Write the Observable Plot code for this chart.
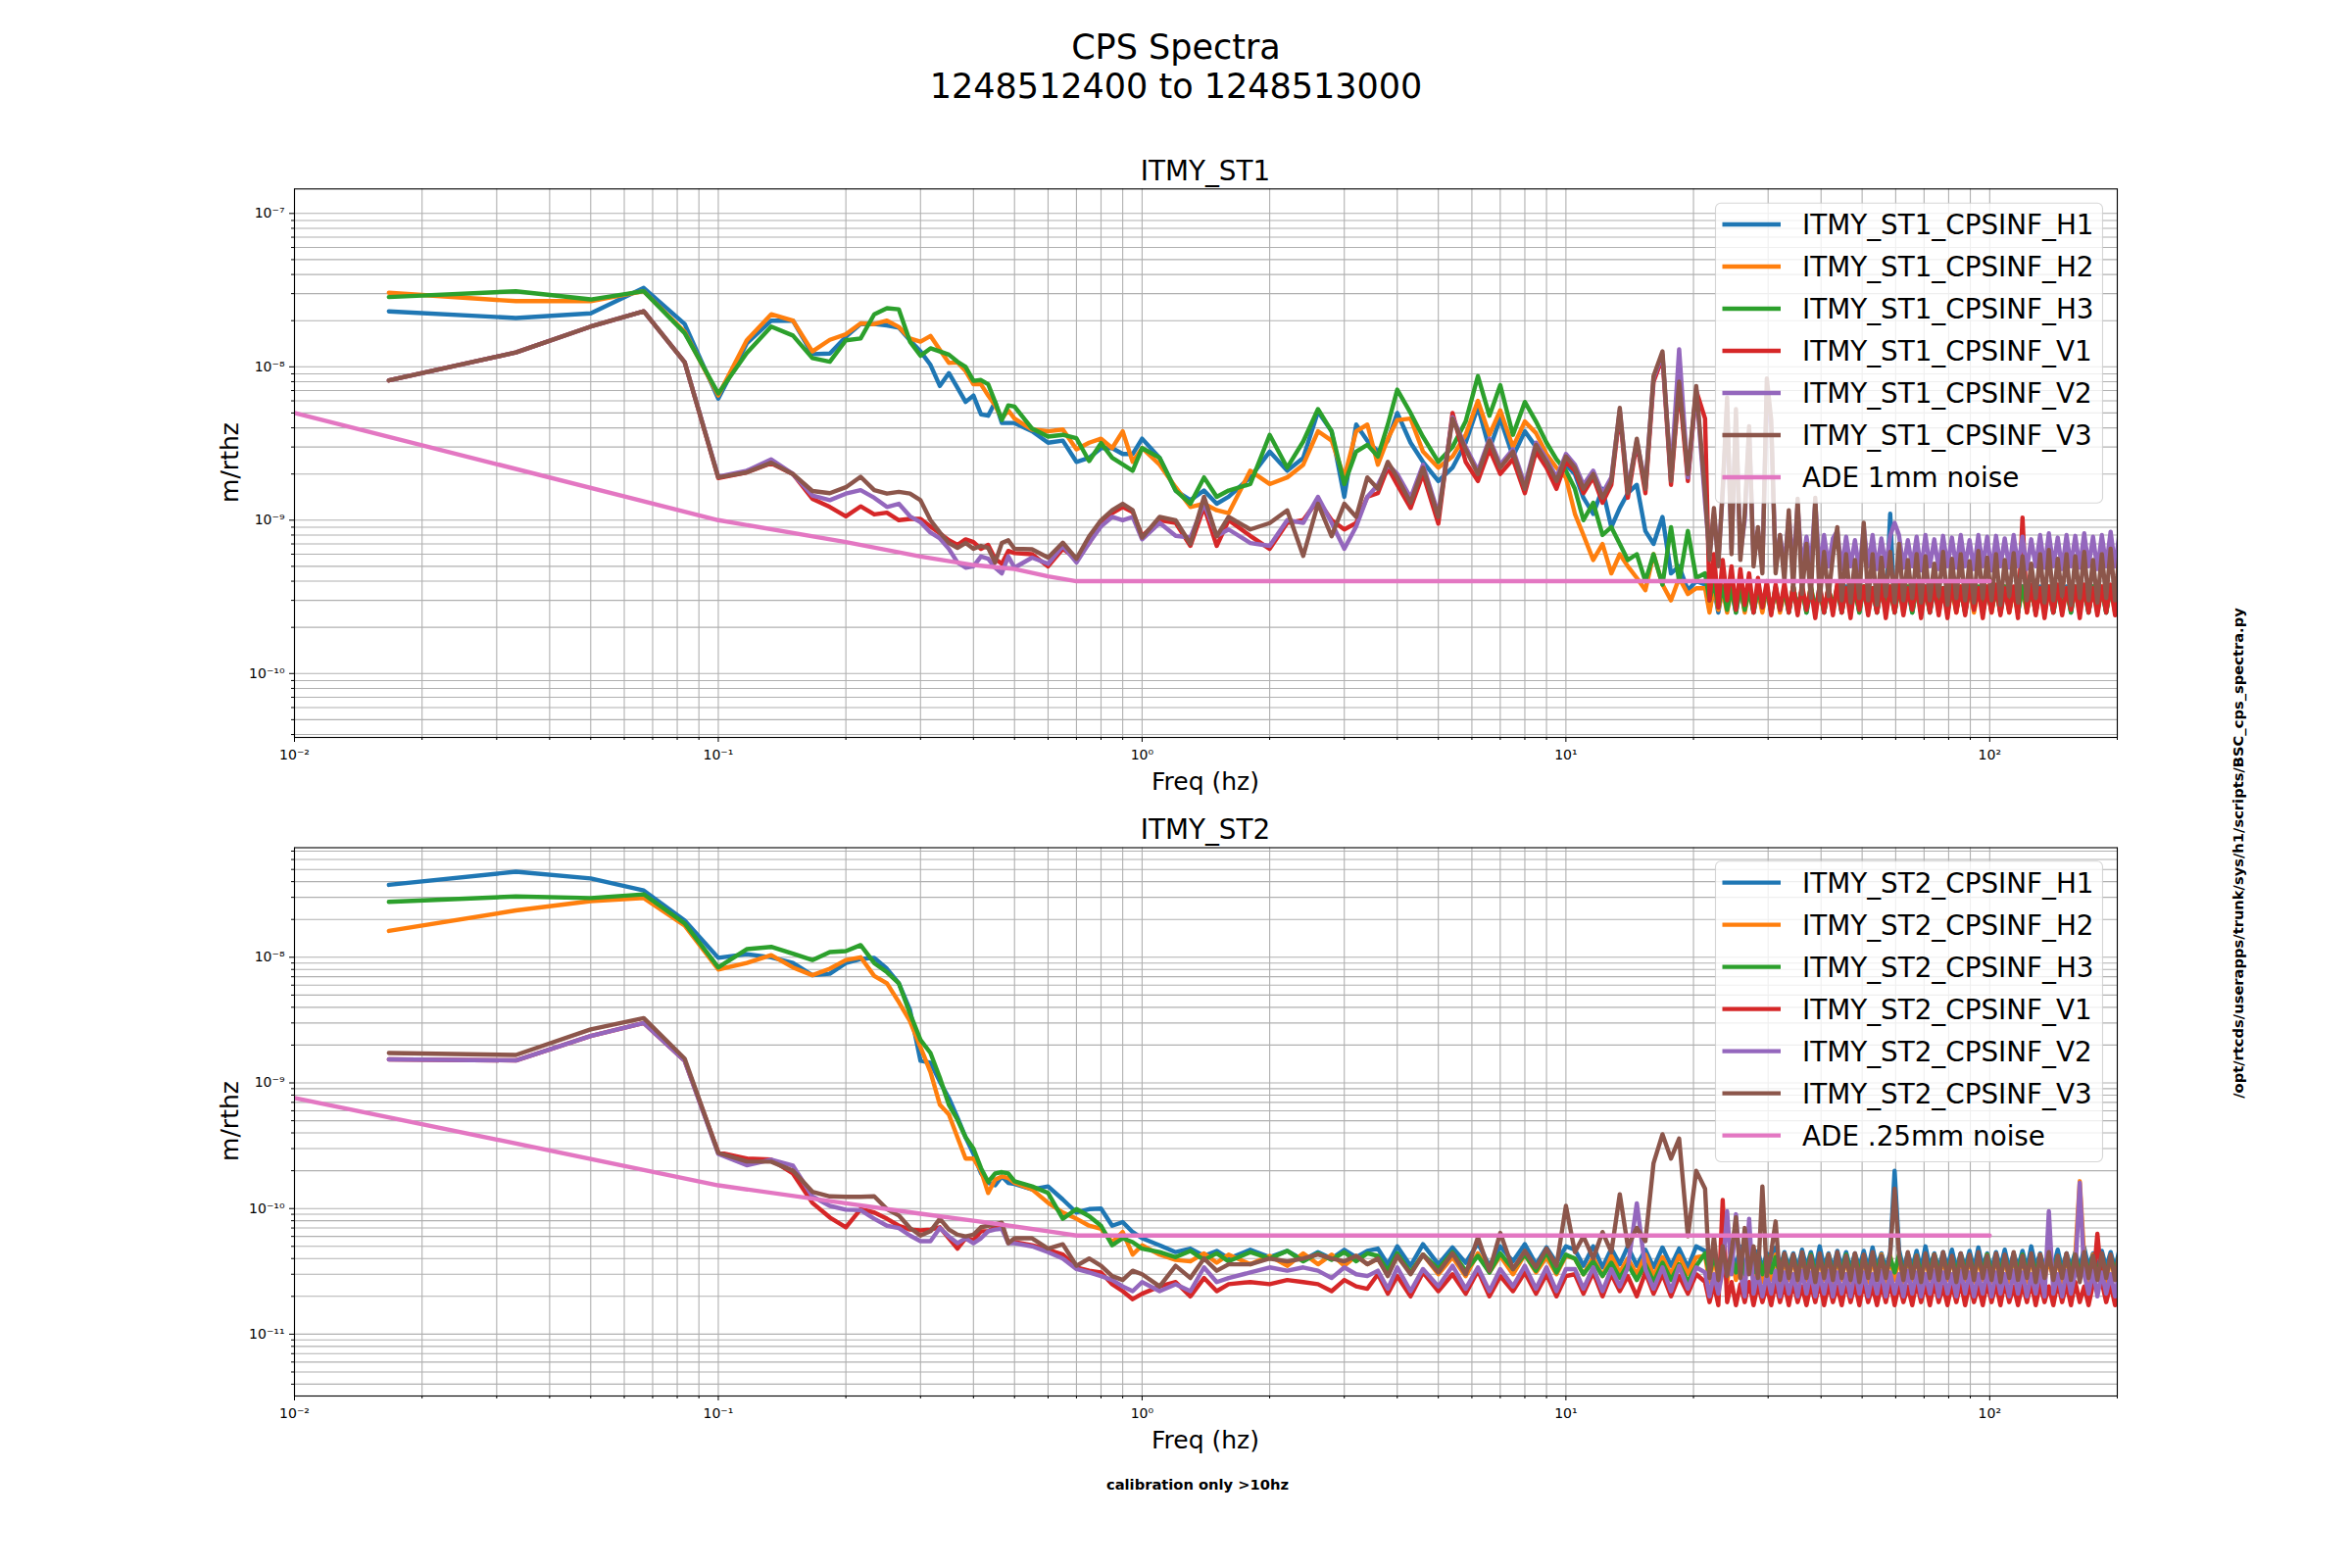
<!DOCTYPE html>
<html>
<head>
<meta charset="utf-8">
<script src="https://cdn.jsdelivr.net/npm/d3@7"></script>
<script src="https://cdn.jsdelivr.net/npm/@observablehq/plot@0.6"></script>
<style>
html, body { margin: 0; padding: 0; background: #fff; overflow: hidden; }
#page { position: relative; width: 2400px; height: 1600px; font-family: "DejaVu Sans", sans-serif; }
#page > svg { position: absolute; left: 0; }
</style>
</head>
<body>
<div id="page"></div>
<script>
// ---------------- DATA (frequency in Hz, amplitudes in nm/rtHz = 1e-9 m/rtHz) ----------------
const freq = [
  0.0167,0.0333,0.05,0.0667,0.0833,0.1,0.1167,0.1333,0.15,0.1667,0.1833,0.2,0.2167,0.2333,0.25,0.2667,0.2833,0.3,0.3167,0.3333,0.35,0.3667,0.3833,0.4,0.4167,0.4333,0.45,0.4667,0.4833,0.5,
  0.55,0.6,0.65,0.7,0.75,0.8,0.85,0.9,0.95,1.0,
  1.1,1.2,1.3,1.4,1.5,1.6,1.8,2.0,2.2,2.4,2.6,2.8,3.0,3.2,3.4,
  3.6,3.8,4.0,4.3,4.6,5.0,5.4,5.8,6.2,6.6,7.0,7.5,8.0,8.5,9.0,9.5,10,
  10.5,11,11.6,12.2,12.8,13.4,14,14.7,15.4,16.1,16.9,17.7,18.5,19.4,20.3,
  21.3,21.82,22.35,22.89,23.44,24.01,24.59,25.19,25.8,26.42,
  27.06,27.72,28.39,29.08,29.79,30.51,31.25,32.0,32.78,33.57,
  34.39,35.22,36.07,36.95,37.84,38.76,39.7,40.66,41.65,42.66,
  43.69,44.75,45.83,46.95,48.08,49.25,50.44,51.66,52.92,54.2,
  55.51,56.86,58.24,59.65,61.09,62.57,64.09,65.64,67.23,68.87,
  70.53,72.24,74.0,75.79,77.62,79.5,81.43,83.41,85.43,87.5,
  89.62,91.8,94.02,96.3,98.63,101.0,103.5,106.0,108.5,111.2,
  113.9,116.6,119.5,122.4,125.3,128.4,131.5,134.7,137.9,141.3,
  144.7,148.2,151.8,155.5,159.2,163.1,167.1,171.1,175.3,179.5,
  183.9,188.3,192.9,197.6,202.3
];

// ---------- ITMY_ST1 ----------
const st1_H1 = [
  23,20.8,22.3,32.7,19,6.2,14.2,20,20,12.1,12.2,15.7,19,19,18.6,18,14.9,12.6,10.3,7.5,9.1,7.3,5.9,6.5,4.9,4.8,5.9,4.3,4.3,4.3,
  3.8,3.2,3.3,2.4,2.55,2.95,2.95,2.7,2.7,3.4,
  2.55,1.56,1.35,1.56,1.28,1.42,1.9,2.8,2.1,2.55,5.1,3.8,1.42,4.2,3.3,
  2.8,3.3,5.0,3.2,2.4,1.8,2.2,3.2,5.5,2.9,4.6,2.6,3.8,3.0,2.4,1.9,2.3,
  2.0,1.4,1.1,1.6,0.9,1.2,1.5,1.7,0.85,0.7,1.05,0.45,0.5,0.35,0.4,
  0.38,0.26,0.36,0.25,0.37,0.27,0.35,0.25,0.36,0.26,
  0.37,0.25,0.36,0.26,0.35,0.25,0.37,0.26,0.36,0.25,
  0.37,0.26,0.36,0.25,0.35,0.26,0.37,0.25,0.36,0.26,
  0.35,0.25,0.37,0.26,0.36,0.25,0.37,0.26,0.35,0.25,
  0.36,0.26,1.1,0.25,0.37,0.26,0.35,0.25,0.36,0.26,
  0.37,0.25,0.36,0.26,0.35,0.25,0.37,0.26,0.36,0.25,
  0.37,0.26,0.36,0.25,0.35,0.26,0.37,0.25,0.36,0.26,
  0.35,0.25,0.37,0.26,0.36,0.25,0.37,0.26,0.35,0.25,
  0.36,0.26,0.37,0.25,0.36,0.26,0.35,0.25,0.37,0.26,
  0.36,0.25,0.37,0.26,0.36
];
const st1_H2 = [
  30.4,26.8,26.8,31.1,16.9,6.5,14.9,22,20,12.6,15,16.3,19.2,19,20,18.2,15.3,14.6,15.9,12.9,10.6,10.7,9.4,7.7,7.7,6.5,5.6,4.6,5.2,4.6,
  3.9,3.8,3.9,2.9,3.2,3.4,2.95,3.8,2.4,2.95,
  2.3,1.64,1.22,1.28,1.16,1.11,2.1,1.72,1.9,2.3,3.8,3.3,1.9,3.8,4.2,
  2.3,3.4,4.5,4.6,2.8,2.2,2.6,3.6,6.0,3.6,5.2,3.0,4.4,3.7,2.7,2.2,1.9,
  1.1,0.8,0.55,0.7,0.45,0.6,0.5,0.42,0.35,0.6,0.38,0.3,0.42,0.33,0.36,
  0.36,0.25,0.37,0.26,0.35,0.25,0.36,0.27,0.37,0.25,
  0.36,0.26,0.35,0.25,0.37,0.26,0.36,0.25,0.35,0.26,
  0.37,0.25,0.36,0.26,0.37,0.25,0.35,0.26,0.36,0.25,
  0.37,0.26,0.35,0.25,0.36,0.26,0.37,0.25,0.36,0.26,
  0.35,0.25,0.37,0.26,0.36,0.25,0.37,0.26,0.35,0.25,
  0.36,0.26,0.37,0.25,0.36,0.26,0.35,0.25,0.37,0.26,
  0.36,0.25,0.35,0.26,0.37,0.25,0.36,0.26,0.37,0.25,
  0.35,0.26,0.36,0.25,0.37,0.26,0.36,0.25,0.35,0.26,
  0.37,0.25,0.36,0.26,0.35,0.25,0.37,0.26,0.36,0.25,
  0.37,0.26,0.36,0.25,0.37
];
const st1_H3 = [
  28.5,31.1,27.5,31.1,16.6,6.7,12.3,18.3,16,11.4,10.8,14.9,15.3,22,24.1,23.7,14.6,11.8,13.2,12.6,12,10.8,10,8.1,8.2,7.7,5.9,4.5,5.6,5.5,
  3.96,3.51,3.6,3.42,2.43,3.18,2.55,2.31,2.1,2.95,
  2.55,1.56,1.28,1.9,1.42,1.56,1.72,3.6,2.2,3.26,5.3,3.8,1.72,2.8,3.1,
  2.6,4.2,7.1,5.0,3.5,2.4,3.0,4.4,8.7,4.8,7.6,3.6,5.9,4.4,3.2,2.5,2.1,
  1.6,1.0,1.3,0.8,0.9,0.7,0.55,0.6,0.4,0.6,0.38,0.9,0.4,0.85,0.42,
  0.45,0.3,0.4,0.27,0.37,0.26,0.36,0.25,0.37,0.26,
  0.35,0.25,0.36,0.27,0.37,0.25,0.36,0.26,0.35,0.25,
  0.37,0.26,0.36,0.25,0.37,0.26,0.35,0.25,0.36,0.27,
  0.37,0.25,0.36,0.26,0.35,0.25,0.37,0.26,0.36,0.25,
  0.37,0.26,0.35,0.25,0.36,0.27,0.37,0.25,0.36,0.26,
  0.35,0.25,0.37,0.26,0.36,0.25,0.37,0.26,0.35,0.25,
  0.36,0.27,0.37,0.25,0.36,0.26,0.35,0.25,0.37,0.26,
  0.36,0.25,0.37,0.26,0.35,0.25,0.36,0.27,0.37,0.25,
  0.36,0.26,0.35,0.25,0.37,0.26,0.36,0.25,0.37,0.26,
  0.35,0.25,0.36,0.27,0.37
];
const st1_V1 = [
  8.15,12.4,18.3,23,10.7,1.88,2.05,2.35,2.0,1.38,1.22,1.06,1.23,1.09,1.12,1.0,1.02,1.02,0.91,0.82,0.74,0.69,0.75,0.72,0.65,0.69,0.56,0.52,0.63,0.61,
  0.6,0.5,0.65,0.56,0.71,0.96,1.11,1.22,1.13,0.79,
  1.0,0.96,0.68,1.22,0.68,1.0,0.79,0.65,0.96,1.0,1.35,1.0,0.87,0.96,1.42,
  1.5,2.2,1.7,1.2,2.0,0.95,5.0,2.4,1.8,2.9,2.0,2.5,1.5,2.8,2.2,1.6,2.4,
  2.1,1.5,1.9,1.3,1.7,5.0,1.4,3.2,1.5,8.0,11.5,1.7,7.5,1.8,7.0,
  4.6,0.3,0.6,0.27,0.55,0.3,0.5,0.26,0.48,0.28,
  0.45,0.25,0.42,0.27,0.4,0.24,0.38,0.26,0.39,0.25,
  0.37,0.24,0.38,0.26,0.36,0.23,0.38,0.25,0.37,0.24,
  0.39,0.25,0.36,0.23,0.38,0.26,0.37,0.24,0.36,0.25,
  0.38,0.23,0.37,0.25,0.39,0.24,0.36,0.26,0.38,0.23,
  0.37,0.25,0.38,0.24,0.36,0.23,0.39,0.25,0.37,0.24,
  0.38,0.26,0.36,0.23,0.37,0.25,0.38,0.24,0.36,0.25,
  0.37,0.23,1.04,0.25,0.38,0.24,0.36,0.23,0.37,0.25,
  0.38,0.24,0.36,0.26,0.37,0.23,0.38,0.25,0.36,0.24,
  0.37,0.25,0.38,0.24,0.36
];
const st1_V2 = [
  8.15,12.4,18.3,23,10.7,1.92,2.1,2.49,2.0,1.45,1.35,1.49,1.57,1.40,1.22,1.28,1.06,0.97,0.83,0.76,0.65,0.53,0.49,0.50,0.58,0.56,0.49,0.45,0.58,0.49,
  0.57,0.52,0.68,0.53,0.71,0.91,1.05,1.0,1.05,0.75,
  0.96,0.79,0.77,1.28,0.79,0.87,0.71,0.68,1.0,0.96,1.42,0.96,0.65,0.91,1.42,
  1.7,2.3,2.0,1.4,2.3,1.1,4.7,3.0,2.1,3.4,2.3,2.9,1.7,3.2,2.5,1.9,2.7,
  2.3,1.7,2.1,1.5,1.9,5.2,1.6,3.3,1.7,8.5,12.0,1.9,13.0,1.9,7.2,
  1.3,0.6,1.1,0.55,1.5,5.5,0.65,4.6,0.6,1.0,
  3.8,0.55,0.85,0.5,7.0,4.0,0.5,0.8,0.5,1.05,
  0.5,1.25,0.48,0.78,0.5,1.3,0.47,0.8,0.5,0.76,
  0.85,0.48,0.78,0.5,0.74,0.47,0.9,0.5,0.8,0.48,
  0.76,0.5,0.79,0.96,0.8,0.49,0.74,0.5,0.78,0.47,
  0.8,0.5,0.75,0.48,0.79,0.5,0.77,0.49,0.8,0.5,
  0.74,0.48,0.8,0.5,0.78,0.47,0.79,0.5,0.76,0.49,
  0.8,0.5,0.78,0.48,0.75,0.5,0.8,0.49,0.82,0.5,
  0.77,0.48,0.8,0.5,0.79,0.49,0.82,0.5,0.78,0.48,
  0.8,0.5,0.84,0.5,0.82
];
const st1_V3 = [
  8.15,12.4,18.3,23,10.7,1.90,2.05,2.37,2.0,1.55,1.50,1.64,1.92,1.57,1.49,1.53,1.49,1.35,1.0,0.83,0.71,0.66,0.71,0.65,0.68,0.66,0.53,0.71,0.74,0.65,
  0.646,0.57,0.713,0.56,0.785,1.0,1.16,1.28,1.16,0.77,
  1.05,1.0,0.7,1.42,0.785,1.05,0.87,0.957,1.16,0.585,1.28,0.785,1.28,1.05,1.9,
  1.6,2.4,1.9,1.3,2.2,1.05,4.6,2.9,2.0,3.3,2.2,2.8,1.6,3.1,2.4,1.8,2.6,
  2.2,1.6,2.0,1.4,1.8,5.4,1.5,3.4,1.6,8.7,12.6,1.8,8.0,2.0,7.5,
  1.5,0.55,1.2,0.5,1.6,6.3,0.6,5.3,0.55,1.1,
  4.1,0.5,0.9,0.45,8.4,4.5,0.45,0.8,0.4,1.16,
  0.35,1.38,0.33,0.7,0.31,1.4,0.3,0.62,0.32,0.58,
  0.9,0.3,0.6,0.29,0.55,0.31,0.96,0.3,0.6,0.28,
  0.57,0.32,0.62,0.29,0.7,0.3,0.55,0.31,0.6,0.29,
  0.58,0.3,0.52,0.32,0.62,0.28,0.56,0.31,0.6,0.3,
  0.54,0.29,0.63,0.31,0.57,0.3,0.6,0.28,0.55,0.32,
  0.61,0.29,0.58,0.3,0.52,0.31,0.6,0.29,0.64,0.3,
  0.56,0.32,0.6,0.28,0.58,0.31,0.62,0.3,0.55,0.29,
  0.6,0.31,0.65,0.3,0.62
];
const ade1Freq = [0.01,0.1,0.2,0.3,0.4,0.5,0.6,0.7,100];
const ade1 = [5.0,1.0,0.72,0.58,0.51,0.48,0.43,0.40,0.40];

// ---------- ITMY_ST2 ----------
const st2_H1 = [
  37.7,48,42.4,34,19.6,9.9,10.6,10.0,9.0,7.2,7.4,9.0,9.7,9.9,8.1,6.2,3.82,1.5,1.45,1.02,0.757,0.53,0.369,0.273,0.191,0.16,0.153,0.18,0.16,0.157,
  0.142,0.15,0.118,0.093,0.099,0.1,0.073,0.078,0.065,0.058,
  0.051,0.045,0.048,0.042,0.046,0.040,0.047,0.041,0.046,0.039,0.045,0.040,0.047,0.041,0.046,
  0.048,0.036,0.05,0.035,0.052,0.036,0.049,0.037,0.053,0.035,0.05,0.038,0.052,0.036,0.049,0.037,0.05,
  0.047,0.035,0.05,0.034,0.048,0.036,0.05,0.035,0.047,0.034,0.049,0.035,0.048,0.034,0.05,
  0.046,0.033,0.045,0.034,0.047,0.033,0.044,0.034,0.05,0.033,
  0.045,0.034,0.046,0.033,0.044,0.034,0.049,0.033,0.045,0.034,
  0.044,0.033,0.047,0.034,0.045,0.033,0.05,0.034,0.044,0.033,
  0.046,0.034,0.045,0.033,0.044,0.034,0.046,0.033,0.049,0.034,
  0.044,0.033,0.045,0.2,0.047,0.033,0.044,0.034,0.046,0.033,
  0.05,0.034,0.044,0.033,0.045,0.034,0.047,0.033,0.044,0.034,
  0.046,0.033,0.049,0.034,0.044,0.033,0.045,0.034,0.047,0.033,
  0.044,0.034,0.046,0.033,0.05,0.034,0.044,0.033,0.045,0.034,
  0.047,0.033,0.044,0.034,0.045,0.033,0.049,0.034,0.044,0.033,
  0.046,0.034,0.045,0.033,0.047
];
const st2_H2 = [
  16.2,23.6,28,29.6,17.9,8.0,9.0,10.4,8.3,7.2,8.1,9.5,10,7.1,6.2,4.4,3.11,1.92,1.22,0.67,0.56,0.369,0.25,0.25,0.20,0.133,0.17,0.18,0.175,0.16,
  0.142,0.111,0.093,0.083,0.073,0.069,0.054,0.065,0.043,0.051,
  0.043,0.039,0.038,0.044,0.037,0.043,0.036,0.042,0.035,0.044,0.036,0.043,0.035,0.042,0.036,
  0.04,0.03,0.042,0.031,0.043,0.03,0.041,0.029,0.044,0.031,0.042,0.03,0.043,0.031,0.041,0.03,0.042,
  0.04,0.03,0.041,0.029,0.042,0.031,0.04,0.03,0.043,0.029,0.041,0.03,0.042,0.03,0.041,
  0.042,0.026,0.041,0.027,0.043,0.026,0.042,0.027,0.041,0.026,
  0.043,0.027,0.042,0.026,0.041,0.027,0.043,0.026,0.042,0.027,
  0.041,0.026,0.043,0.027,0.042,0.026,0.041,0.027,0.043,0.026,
  0.042,0.027,0.041,0.026,0.043,0.027,0.042,0.026,0.041,0.027,
  0.043,0.026,0.042,0.027,0.041,0.026,0.043,0.027,0.042,0.026,
  0.041,0.027,0.043,0.026,0.042,0.027,0.041,0.026,0.043,0.027,
  0.042,0.026,0.041,0.027,0.043,0.026,0.042,0.027,0.041,0.026,
  0.043,0.027,0.042,0.026,0.041,0.027,0.043,0.026,0.042,0.027,
  0.041,0.026,0.043,0.027,0.042,0.165,0.041,0.026,0.043,0.027,
  0.042,0.026,0.041,0.027,0.043
];
const st2_H3 = [
  27.6,30.5,29.6,31.7,18.6,8.3,11.6,12.1,10.7,9.5,11.0,11.2,12.5,9.0,7.6,6.2,3.57,2.2,1.73,1.1,0.67,0.51,0.369,0.30,0.21,0.163,0.19,0.195,0.19,0.165,
  0.15,0.133,0.083,0.099,0.087,0.073,0.051,0.058,0.054,0.048,
  0.045,0.041,0.046,0.039,0.044,0.038,0.045,0.04,0.046,0.038,0.044,0.039,0.045,0.038,0.044,
  0.042,0.032,0.044,0.031,0.043,0.033,0.045,0.032,0.042,0.031,0.044,0.033,0.043,0.032,0.045,0.031,0.043,
  0.04,0.03,0.038,0.029,0.037,0.028,0.036,0.027,0.036,0.026,0.037,0.027,0.036,0.026,0.035,
  0.044,0.03,0.042,0.031,0.043,0.03,0.041,0.031,0.042,0.03,
  0.041,0.031,0.043,0.03,0.042,0.031,0.041,0.03,0.043,0.031,
  0.042,0.03,0.041,0.031,0.043,0.03,0.041,0.031,0.042,0.03,
  0.041,0.031,0.043,0.03,0.042,0.031,0.041,0.03,0.043,0.031,
  0.042,0.03,0.041,0.031,0.043,0.03,0.041,0.031,0.042,0.03,
  0.041,0.031,0.043,0.03,0.042,0.031,0.041,0.03,0.043,0.031,
  0.042,0.03,0.041,0.031,0.043,0.03,0.041,0.031,0.042,0.03,
  0.041,0.031,0.043,0.03,0.042,0.031,0.041,0.03,0.043,0.031,
  0.042,0.03,0.041,0.031,0.043,0.03,0.041,0.031,0.042,0.03,
  0.042,0.03,0.041,0.031,0.043
];
const st2_V1 = [
  1.54,1.51,2.36,3.0,1.5,0.28,0.25,0.245,0.19,0.111,0.085,0.071,0.099,0.093,0.083,0.073,0.068,0.067,0.068,0.071,0.058,0.048,0.058,0.056,0.066,0.066,0.071,0.073,0.054,0.054,
  0.051,0.047,0.043,0.034,0.032,0.031,0.025,0.022,0.019,0.021,
  0.024,0.026,0.020,0.028,0.022,0.025,0.026,0.025,0.027,0.026,0.025,0.022,0.027,0.024,0.023,
  0.03,0.021,0.029,0.02,0.031,0.022,0.03,0.021,0.032,0.02,0.029,0.022,0.031,0.021,0.03,0.02,0.029,
  0.03,0.021,0.031,0.02,0.03,0.022,0.029,0.02,0.031,0.021,0.03,0.02,0.029,0.021,0.03,
  0.026,0.018,0.025,0.017,0.117,0.018,0.026,0.017,0.025,0.018,
  0.026,0.017,0.025,0.018,0.024,0.017,0.026,0.018,0.025,0.017,
  0.026,0.018,0.024,0.017,0.025,0.018,0.026,0.017,0.025,0.018,
  0.024,0.017,0.026,0.018,0.025,0.017,0.026,0.018,0.024,0.017,
  0.025,0.018,0.026,0.017,0.025,0.018,0.024,0.017,0.026,0.018,
  0.025,0.017,0.026,0.018,0.024,0.017,0.025,0.018,0.026,0.017,
  0.025,0.018,0.024,0.017,0.026,0.018,0.025,0.017,0.026,0.018,
  0.024,0.017,0.025,0.018,0.026,0.017,0.025,0.018,0.024,0.017,
  0.026,0.018,0.025,0.017,0.026,0.018,0.024,0.017,0.025,0.063,
  0.026,0.018,0.025,0.017,0.026
];
const st2_V2 = [
  1.54,1.51,2.36,3.0,1.5,0.272,0.221,0.245,0.22,0.125,0.105,0.098,0.097,0.083,0.073,0.07,0.061,0.055,0.055,0.07,0.06,0.053,0.058,0.053,0.058,0.066,0.068,0.069,0.053,0.053,
  0.05,0.045,0.04,0.033,0.031,0.029,0.027,0.024,0.022,0.026,
  0.022,0.025,0.022,0.034,0.026,0.028,0.031,0.034,0.032,0.034,0.032,0.028,0.034,0.03,0.029,
  0.032,0.023,0.034,0.022,0.033,0.024,0.035,0.023,0.034,0.022,0.033,0.024,0.035,0.023,0.034,0.022,0.033,
  0.033,0.023,0.034,0.022,0.033,0.024,0.034,0.11,0.033,0.023,0.034,0.022,0.035,0.023,0.034,
  0.031,0.02,0.03,0.021,0.032,0.095,0.03,0.09,0.031,0.02,
  0.083,0.021,0.031,0.02,0.03,0.021,0.032,0.02,0.031,0.021,
  0.03,0.02,0.032,0.021,0.031,0.02,0.03,0.021,0.032,0.02,
  0.031,0.021,0.03,0.02,0.032,0.021,0.031,0.02,0.03,0.021,
  0.032,0.02,0.031,0.021,0.03,0.02,0.032,0.021,0.031,0.02,
  0.03,0.021,0.032,0.02,0.031,0.021,0.03,0.02,0.032,0.021,
  0.031,0.02,0.03,0.021,0.032,0.02,0.031,0.021,0.03,0.02,
  0.032,0.021,0.031,0.02,0.03,0.021,0.032,0.02,0.095,0.021,
  0.03,0.02,0.032,0.021,0.031,0.16,0.03,0.021,0.032,0.02,
  0.031,0.021,0.03,0.02,0.032
];
const st2_V3 = [
  1.73,1.67,2.67,3.28,1.56,0.277,0.237,0.236,0.2,0.136,0.125,0.124,0.124,0.125,0.099,0.088,0.07,0.061,0.066,0.083,0.068,0.062,0.06,0.062,0.071,0.073,0.075,0.077,0.053,0.058,
  0.058,0.048,0.052,0.035,0.04,0.035,0.029,0.027,0.032,0.03,
  0.024,0.035,0.028,0.04,0.032,0.036,0.036,0.04,0.038,0.04,0.043,0.04,0.038,0.042,0.036,
  0.04,0.029,0.042,0.03,0.043,0.031,0.044,0.03,0.059,0.032,0.064,0.033,0.046,0.034,0.048,0.035,0.105,
  0.045,0.06,0.04,0.065,0.045,0.13,0.05,0.07,0.055,0.23,0.39,0.25,0.36,0.06,0.2,
  0.144,0.028,0.06,0.027,0.05,0.029,0.045,0.085,0.028,0.07,
  0.03,0.05,0.028,0.15,0.029,0.045,0.079,0.027,0.044,0.028,
  0.043,0.027,0.045,0.028,0.042,0.026,0.044,0.028,0.043,0.027,
  0.045,0.028,0.042,0.027,0.044,0.026,0.043,0.028,0.045,0.027,
  0.042,0.028,0.044,0.144,0.043,0.027,0.045,0.028,0.042,0.026,
  0.044,0.028,0.043,0.027,0.045,0.028,0.042,0.026,0.044,0.028,
  0.043,0.027,0.045,0.028,0.042,0.027,0.044,0.026,0.043,0.028,
  0.045,0.027,0.042,0.028,0.044,0.026,0.043,0.028,0.045,0.027,
  0.042,0.028,0.044,0.027,0.043,0.026,0.045,0.028,0.042,0.027,
  0.044,0.028,0.043,0.027,0.045
];
const ade2Freq = [0.01,0.1,0.2,0.3,0.4,0.5,0.6,0.7,100];
const ade2 = [0.76,0.153,0.11,0.091,0.08,0.072,0.066,0.061,0.061];

const st1Names = ["ITMY_ST1_CPSINF_H1","ITMY_ST1_CPSINF_H2","ITMY_ST1_CPSINF_H3","ITMY_ST1_CPSINF_V1","ITMY_ST1_CPSINF_V2","ITMY_ST1_CPSINF_V3"];
const st2Names = ["ITMY_ST2_CPSINF_H1","ITMY_ST2_CPSINF_H2","ITMY_ST2_CPSINF_H3","ITMY_ST2_CPSINF_V1","ITMY_ST2_CPSINF_V2","ITMY_ST2_CPSINF_V3"];
const ade1Name = "ADE 1mm noise";
const ade2Name = "ADE .25mm noise";
const seriesColors = ["#1f77b4","#ff7f0e","#2ca02c","#d62728","#9467bd","#8c564b"];
const adeColor = "#e377c2";

const xMajor = [0.01, 0.1, 1, 10, 100];
const xTickLabels = ["10\u207B\u00B2","10\u207B\u00B9","10\u2070","10\u00B9","10\u00B2"];
const yMajorTop = [1e-10, 1e-9, 1e-8, 1e-7];
const yTickLabelsTop = ["10\u207B\u00B9\u2070","10\u207B\u2079","10\u207B\u2078","10\u207B\u2077"];
const yMajorBottom = [1e-11, 1e-10, 1e-9, 1e-8];
const yTickLabelsBottom = ["10\u207B\u00B9\u00B9","10\u207B\u00B9\u2070","10\u207B\u2079","10\u207B\u2078"];

// ---------------- RENDER ----------------
const page = document.getElementById("page");
const xDomain = [0.01, 200];
const FONT = "DejaVu Sans";
const LW = 4.4;

function rowsFor(names, arrays) {
  const rows = [];
  names.forEach((n, k) => {
    const vals = arrays[k];
    const m = Math.min(freq.length, vals.length);
    if (vals.length !== freq.length) console.warn(n, vals.length, freq.length);
    for (let i = 0; i < m; i++) rows.push({f: freq[i], v: vals[i] * 1e-9, s: n});
  });
  return rows;
}
function adeRows(fs, vs) { return fs.map((f, i) => ({f, v: vs[i] * 1e-9})); }
function fmtFrom(major, labels) {
  return d => { const i = major.findIndex(t => Math.abs(t - d) / t < 1e-6); return i >= 0 ? labels[i] : ""; };
}
function isMajor(t) { const l = Math.log10(t); return Math.abs(l - Math.round(l)) < 1e-9; }

function panel(o) {
  const xAll = d3.scaleLog().domain(xDomain).ticks();
  const yAll = d3.scaleLog().domain(o.yDomain).ticks();
  const xMinor = xAll.filter(t => !isMajor(t));
  const yMinor = yAll.filter(t => !isMajor(t));
  const chart = Plot.plot({
    width: 2400, height: o.height,
    marginLeft: 300, marginRight: 240, marginTop: o.marginTop, marginBottom: o.marginBottom,
    style: {background: "transparent", fontFamily: FONT, fontSize: "14px", color: "black", overflow: "visible"},
    x: {type: "log", domain: xDomain, label: null},
    y: {type: "log", domain: o.yDomain, label: null},
    color: {domain: o.names, range: seriesColors},
    marks: [
      Plot.gridX(xAll, {stroke: "#b0b0b0", strokeOpacity: 1, strokeWidth: 1.1}),
      Plot.gridY(yAll, {stroke: "#b0b0b0", strokeOpacity: 1, strokeWidth: 1.1}),
      Plot.line(rowsFor(o.names, o.arrays), {x: "f", y: "v", z: "s", stroke: "s", strokeWidth: LW, clip: true}),
      Plot.line(adeRows(o.adeF, o.adeV), {x: "f", y: "v", stroke: adeColor, strokeWidth: LW, clip: true}),
      Plot.axisX(xMinor, {tickSize: 3, tickFormat: () => "", label: null}),
      Plot.axisX(xMajor, {tickSize: 5, tickPadding: 8, fontSize: 14, tickFormat: fmtFrom(xMajor, xTickLabels), label: null}),
      Plot.axisY(yMinor, {tickSize: 3, tickFormat: () => "", label: null}),
      Plot.axisY(o.yMajor, {tickSize: 5, tickPadding: 5, fontSize: 14, tickFormat: fmtFrom(o.yMajor, o.yLabels), label: null}),
      Plot.frame({stroke: "black", strokeWidth: 1.1})
    ]
  });
  chart.style.position = "absolute";
  chart.style.top = o.top + "px";
  chart.style.left = "0px";
  page.appendChild(chart);
}

panel({
  top: 150, height: 690, marginTop: 42.3, marginBottom: 88,
  yDomain: [3.83e-11, 1.445e-7], yMajor: yMajorTop, yLabels: yTickLabelsTop,
  names: st1Names, arrays: [st1_H1, st1_H2, st1_H3, st1_V1, st1_V2, st1_V3],
  adeF: ade1Freq, adeV: ade1
});
panel({
  top: 840, height: 640, marginTop: 24.5, marginBottom: 56,
  yDomain: [3.22e-12, 7.45e-8], yMajor: yMajorBottom, yLabels: yTickLabelsBottom,
  names: st2Names, arrays: [st2_H1, st2_H2, st2_H3, st2_V1, st2_V2, st2_V3],
  adeF: ade2Freq, adeV: ade2
});

// ---------------- TEXT + LEGENDS OVERLAY ----------------
const ov = d3.select(page).append("svg")
  .attr("width", 2400).attr("height", 1600)
  .style("position", "absolute").style("top", "0px").style("left", "0px")
  .style("font-family", FONT).style("pointer-events", "none");

function txt(x, y, s, size, opts = {}) {
  const t = ov.append("text").attr("x", x).attr("y", y).attr("font-size", size)
    .attr("text-anchor", opts.anchor || "middle").attr("fill", "#000").text(s);
  if (opts.weight) t.attr("font-weight", opts.weight);
  if (opts.rotate) t.attr("x", 0).attr("y", 0).attr("transform", `translate(${x},${y}) rotate(-90)`);
  return t;
}
txt(1200, 60, "CPS Spectra", 35);
txt(1200, 99.5, "1248512400 to 1248513000", 35);
txt(1230, 184, "ITMY_ST1", 27.8);
txt(1230, 856, "ITMY_ST2", 27.8);
txt(1230, 806, "Freq (hz)", 25);
txt(1230, 1478, "Freq (hz)", 25);
txt(243, 472, "m/rthz", 25, {rotate: true});
txt(243, 1144, "m/rthz", 25, {rotate: true});
txt(2288.5, 870.5, "/opt/rtcds/userapps/trunk/sys/h1/scripts/BSC_cps_spectra.py", 14.7, {rotate: true, weight: "bold"});
txt(1222, 1520, "calibration only >10hz", 14.7, {weight: "bold"});

function legend(x0, y0, w, h, labels, colors) {
  ov.append("rect").attr("x", x0 + 0.5).attr("y", y0 + 0.5).attr("width", w).attr("height", h)
    .attr("rx", 5.5).attr("fill", "white").attr("fill-opacity", 0.8)
    .attr("stroke", "#cccccc").attr("stroke-opacity", 0.8).attr("stroke-width", 1.1);
  labels.forEach((lab, i) => {
    const cy = y0 + 22.3 + i * 43;
    ov.append("line").attr("x1", x0 + 7.5).attr("x2", x0 + 67).attr("y1", cy).attr("y2", cy)
      .attr("stroke", colors[i]).attr("stroke-width", LW);
    ov.append("text").attr("x", x0 + 89).attr("y", cy + 10.2).attr("font-size", 27.8)
      .attr("fill", "#000").text(lab);
  });
}
legend(1750, 206.7, 395, 306, [...st1Names, ade1Name], [...seriesColors, adeColor]);
legend(1750, 878.3, 395, 306.7, [...st2Names, ade2Name], [...seriesColors, adeColor]);
</script>
</body>
</html>
